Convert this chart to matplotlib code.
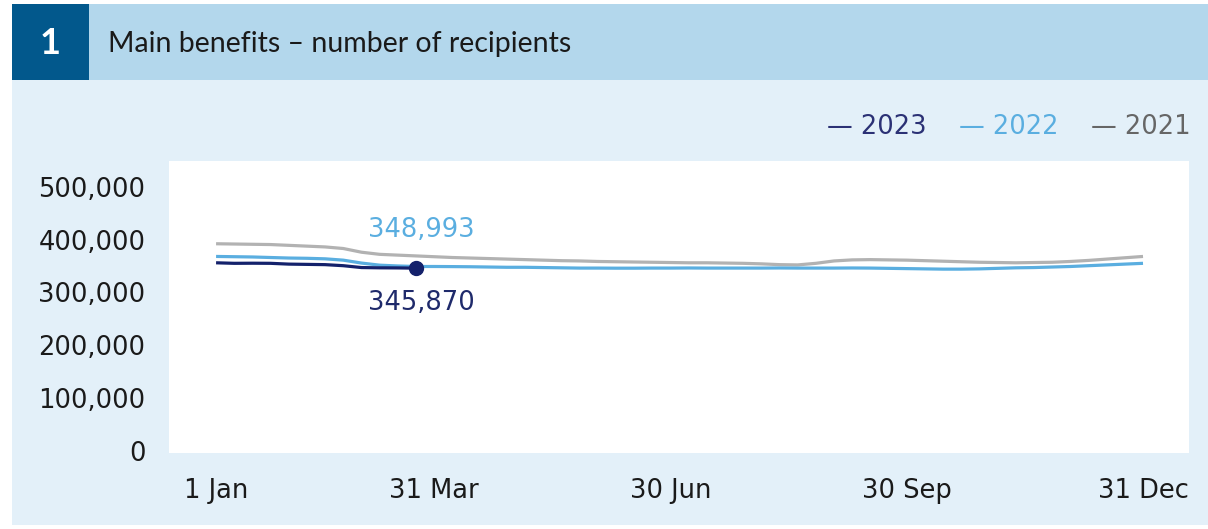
import matplotlib
matplotlib.use("Agg")
import matplotlib.pyplot as plt
from matplotlib.patches import Rectangle
from matplotlib.ticker import FuncFormatter

plt.rcParams["font.family"] = ["DejaVu Sans"]

# weekly counts of main benefit recipients (week 0 = 1 Jan)
weeks = list(range(52))
recip_2021 = [392000, 391500, 391000, 390500, 389000, 387500, 386000, 383000,
              376000, 372000, 370500, 369000, 367500, 366000, 365000, 364000,
              363000, 362000, 361000, 360000, 359500, 358500, 358000, 357500,
              357000, 356500, 356000, 356000, 355500, 355000, 354000, 352500,
              352000, 355000, 359500, 361500, 362000, 361500, 361000, 360000,
              359000, 358000, 357000, 356500, 356000, 356500, 357000, 358500,
              360500, 363000, 365500, 368000]
recip_2022 = [368000, 367500, 367000, 366000, 365000, 364500, 363500, 361000,
              355500, 351500, 350000, 348993, 349000, 348800, 348500, 348000,
              347500, 347500, 347000, 346500, 346000, 346000, 345800, 345800,
              346000, 346000, 346200, 346000, 346000, 346000, 346000, 346200,
              346000, 346000, 346000, 346200, 346000, 345500, 345000, 344500,
              344000, 344000, 344500, 345500, 346500, 347000, 348000, 349000,
              350500, 352000, 353500, 355000]
recip_2023 = [356000, 355000, 355200, 355000, 353500, 353000, 352500, 350500,
              347000, 346500, 346300, 345870]

tick_weeks = [0, 12, 25, 38, 51]
tick_labels = ["1 Jan", "31 Mar", "30 Jun", "30 Sep", "31 Dec"]
y_ticks = [0, 100000, 200000, 300000, 400000, 500000]

C2023 = "#14216b"
C2022 = "#5aaee0"
C2021 = "#b2b2b2"

W, H = 1208, 529
fig = plt.figure(figsize=(W / 100, H / 100), dpi=100)
fig.patch.set_facecolor("white")


def px_rect(x0, y0, x1, y1, color):
    # pixel box (top-left origin) -> figure fraction rectangle
    fig.add_artist(Rectangle((x0 / W, 1 - y1 / H), (x1 - x0) / W, (y1 - y0) / H,
                             transform=fig.transFigure, facecolor=color,
                             edgecolor="none", zorder=0))


px_rect(12, 4, W, 525, "#e3f0f9")
px_rect(12, 4, W, 80, "#b3d7ec")
px_rect(12, 4, 89, 80, "#02588c")

fig.text(50.5 / W, 1 - 44 / H, "1", color="white", fontsize=26, fontweight="bold",
         ha="center", va="center", family="Lato")
fig.text(108 / W, 1 - 44 / H, "Main benefits \u2013 number of recipients",
         color="#1a1a1a", fontsize=20.5, ha="left", va="center", family="Lato")

# legend as coloured text
for x, label, col in [(827, "\u2014 2023", "#2b3175"),
                      (959, "\u2014 2022", C2022),
                      (1091, "\u2014 2021", "#666666")]:
    fig.text(x / W, 1 - 127 / H, label, color=col, fontsize=18.5,
             ha="left", va="center")

ax = fig.add_axes([169 / W, 1 - 453 / H, (1189 - 169) / W, (453 - 161) / H])
ax.set_facecolor("white")
for s in ax.spines.values():
    s.set_visible(False)

ax.plot(weeks, recip_2021, color=C2021, linewidth=2.3, solid_capstyle="butt")
ax.plot(weeks, recip_2022, color=C2022, linewidth=2.3, solid_capstyle="butt")
ax.plot(weeks[:len(recip_2023)], recip_2023, color=C2023, linewidth=2.3,
        solid_capstyle="butt")

last = len(recip_2023) - 1
ax.plot(weeks[last], recip_2023[last], "o", color=C2023, markersize=10, zorder=5)
ax.annotate(f"{recip_2022[last]:,}", (weeks[last], recip_2022[last]),
            xytext=(4, 26), textcoords="offset points", ha="center", va="center",
            color=C2022, fontsize=18.5)
ax.annotate(f"{recip_2023[last]:,}", (weeks[last], recip_2023[last]),
            xytext=(4, -25), textcoords="offset points", ha="center", va="center",
            color="#1f2a6b", fontsize=18.5)

ax.set_xlim(-2.59, 53.53)
ax.set_ylim(-3700, 548500)
ax.set_xticks(tick_weeks)
ax.set_xticklabels(tick_labels)
ax.set_yticks(y_ticks)
ax.yaxis.set_major_formatter(FuncFormatter(lambda v, p: f"{int(v):,}"))
ax.tick_params(axis="both", length=0, labelsize=18.5, labelcolor="#1a1a1a")
ax.tick_params(axis="y", pad=17)
ax.tick_params(axis="x", pad=18)

fig.savefig("out.png", dpi=100, facecolor=fig.get_facecolor())
